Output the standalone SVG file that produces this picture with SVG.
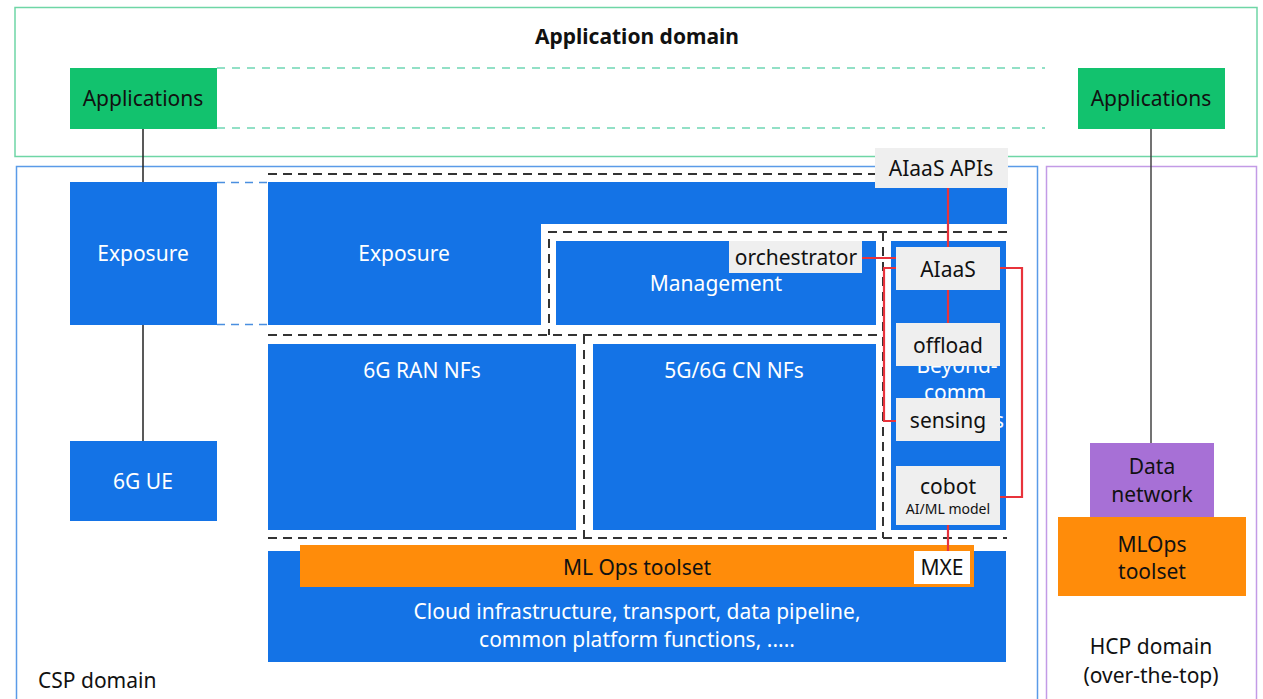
<svg xmlns="http://www.w3.org/2000/svg" width="1263" height="699" viewBox="0 0 1263 699">
<style>
text{font-family:"Noto Sans","Liberation Sans",sans-serif;font-size:21px;text-anchor:middle}
.w{fill:#ffffff}
.k{fill:#111111}
.blue{fill:#1473e6}
.gray{fill:#efefef}
.green{fill:#12c26e}
.orange{fill:#ff8c0a}
.dash{fill:none;stroke:#333;stroke-width:2;stroke-dasharray:9 6}
.red{fill:none;stroke:#e8333b;stroke-width:2.2}
</style>
<rect width="1263" height="699" fill="#ffffff"/>
<g id="application-domain">
<rect x="15" y="7.5" width="1242" height="149" fill="none" stroke="#6fd6a6" stroke-width="1.5"/>
<text x="637" y="44" class="k" style="font-weight:bold">Application domain</text>
<line x1="217" y1="68" x2="1045" y2="68" stroke="#6fd6b4" stroke-width="1.5" stroke-dasharray="8 7"/>
<line x1="217" y1="128" x2="1045" y2="128" stroke="#6fd6b4" stroke-width="1.5" stroke-dasharray="8 7"/>
</g>
<g id="csp-domain">
<rect x="16.5" y="166.5" width="1021" height="540" fill="none" stroke="#5a9be8" stroke-width="1.5"/>
<text x="38" y="688" class="k" style="text-anchor:start">CSP domain</text>
</g>
<g id="hcp-domain">
<rect x="1046.5" y="166.5" width="210" height="540" fill="none" stroke="#c39be6" stroke-width="1.5"/>
<text x="1151" y="654" class="k">HCP domain</text>
<text x="1151" y="683" class="k">(over-the-top)</text>
</g>
<g id="connectors">
<line x1="143" y1="129" x2="143" y2="441" stroke="#222" stroke-width="1.5"/>
<line x1="1151" y1="129" x2="1151" y2="443" stroke="#444" stroke-width="1.5"/>
<line x1="217" y1="182.5" x2="268" y2="182.5" stroke="#4a8fe0" stroke-width="1.5" stroke-dasharray="8 6"/>
<line x1="217" y1="324.5" x2="268" y2="324.5" stroke="#4a8fe0" stroke-width="1.5" stroke-dasharray="8 6"/>
<line x1="268" y1="174" x2="875" y2="174" class="dash"/>
<path d="M1007 232 H549 V335 M268 335 H883 M883 232 V538 M584 335 V538 M268 538 H1007" class="dash"/>
</g>
<g id="app-left">
<rect x="70" y="68" width="147" height="61" class="green"/>
<text x="143" y="106" class="k">Applications</text>
</g>
<g id="app-right">
<rect x="1078" y="68" width="147" height="61" class="green"/>
<text x="1151" y="106" class="k">Applications</text>
</g>
<g id="exposure-left">
<rect x="70" y="182" width="147" height="143" class="blue"/>
<text x="143" y="261" class="w">Exposure</text>
</g>
<g id="ue">
<rect x="70" y="441" width="147" height="80" class="blue"/>
<text x="143" y="489" class="w">6G UE</text>
</g>
<g id="exposure">
<path d="M268 182 H1007 V224 H541 V325 H268 Z" class="blue"/>
<text x="404" y="261" class="w">Exposure</text>
</g>
<g id="management">
<rect x="556" y="241" width="320" height="84" class="blue"/>
<text x="716" y="291" class="w">Management</text>
</g>
<g id="ran">
<rect x="268" y="344" width="308" height="186" class="blue"/>
<text x="422" y="378" class="w">6G RAN NFs</text>
</g>
<g id="cn">
<rect x="593" y="344" width="283" height="186" class="blue"/>
<text x="734" y="378" class="w">5G/6G CN NFs</text>
</g>
<g id="beyond-comm">
<rect x="891" y="241" width="115" height="289" class="blue"/>
<text x="957" y="373" class="w">Beyond-</text>
<text x="955" y="400" class="w">comm</text>
<text x="1004" y="428" class="w" style="text-anchor:end">NFs</text>
</g>
<g id="cloud">
<rect x="268" y="551" width="738" height="111" class="blue"/>
<text x="637" y="619" class="w">Cloud infrastructure, transport, data pipeline,</text>
<text x="637" y="647" class="w">common platform functions, .....</text>
</g>
<g id="mlops">
<rect x="300" y="545" width="674" height="42" class="orange"/>
<text x="637" y="575" class="k">ML Ops toolset</text>
</g>
<g id="red-links">
<path d="M948 188 V247 M862 258 H896 M896 268 H884 V421 H896 M1000 268 H1022 V497 H1000 M948 290 V323 M948 525 V551" class="red"/>
</g>
<g id="mxe">
<rect x="914" y="551" width="56" height="33" fill="#ffffff"/>
<text x="942" y="575" class="k">MXE</text>
</g>
<g id="aiaas-apis">
<rect x="875" y="148" width="133" height="40" class="gray"/>
<text x="941" y="176" class="k">AIaaS APIs</text>
</g>
<g id="orchestrator">
<rect x="729" y="241" width="133" height="32" class="gray"/>
<text x="796" y="265" class="k">orchestrator</text>
</g>
<g id="aiaas">
<rect x="896" y="247" width="104" height="43" class="gray"/>
<text x="948" y="277" class="k">AIaaS</text>
</g>
<g id="offload">
<rect x="896" y="323" width="104" height="43" class="gray"/>
<text x="948" y="353" class="k">offload</text>
</g>
<g id="sensing">
<rect x="896" y="398" width="104" height="43" class="gray"/>
<text x="948" y="428" class="k">sensing</text>
</g>
<g id="cobot">
<rect x="896" y="466" width="104" height="59" class="gray"/>
<text x="948" y="494" class="k">cobot</text>
<text x="948" y="514" class="k" style="font-size:14px">AI/ML model</text>
</g>
<g id="data-network">
<rect x="1090" y="443" width="124" height="74" fill="#a770d6"/>
<text x="1152" y="474" class="k">Data</text>
<text x="1152" y="502" class="k">network</text>
</g>
<g id="mlops-hcp">
<rect x="1058" y="517" width="188" height="79" class="orange"/>
<text x="1152" y="552" class="k">MLOps</text>
<text x="1152" y="579" class="k">toolset</text>
</g>
</svg>
